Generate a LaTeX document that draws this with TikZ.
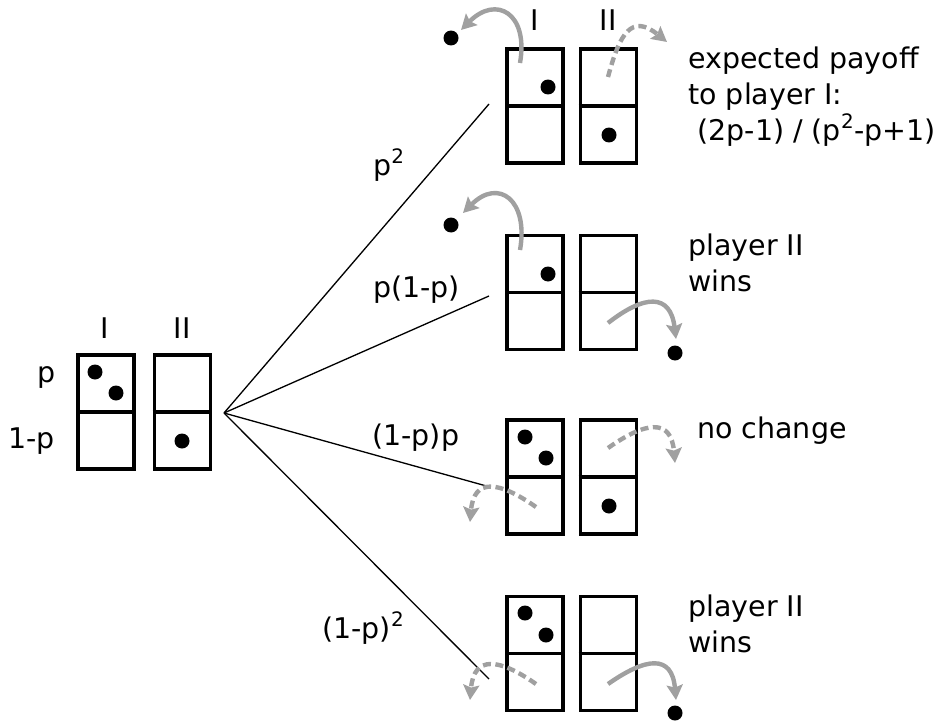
\documentclass[tikz,border=0pt]{standalone}
\usepackage{fontspec}
\setmainfont{DejaVu Sans}
\usetikzlibrary{arrows.meta}
\definecolor{grigio}{RGB}{160,160,160}

\begin{document}
\begin{tikzpicture}[x=0.02cm, y=0.02cm, font=\fontsize{16.2pt}{20.4pt}\selectfont,
    cella/.style = {draw, line width=2.1pt, minimum width=1.12cm, minimum height=2.28cm, inner sep=0},
    palla/.style = {circle, fill, inner sep=0, minimum size=0.3cm},
    ramo/.style = {line width=0.75pt},
    mossa/.style = {draw=grigio, line width=2.5pt, looseness=1.7, -{Stealth[length=0.3cm, width=0.32cm, inset=0.05cm]}},
    finta/.style = {mossa, dash pattern=on 0.16cm off 0.09cm},
    testo/.style = {anchor=base west, align=left, inner sep=0}]
    \useasboundingbox (0,0) rectangle (946,725);

    % Disegna le caselle
    \node[cella] (I0) at (106,313) {};
    \node[cella] (II0) at (182.5,313) {};
    \draw[line width=2.1pt] (I0.west) -- (I0.east) (II0.west) -- (II0.east);
    \foreach \n/\y in {1/619, 2/432.5, 3/248, 4/71.5} {
        \node[cella] (I\n) at (535,\y) {};
        \node[cella] (II\n) at (608.5,\y) {};
        \draw[line width=2.1pt] (I\n.west) -- (I\n.east) (II\n.west) -- (II\n.east);
    }

    \node[anchor=base] (tI0) at (105,387) {I};
    \node[anchor=base] (tII0) at (182,387) {II};
    \node[anchor=base] (tI1) at (535,694) {I};
    \node[anchor=base] (tII1) at (608,694) {II};
    \node[anchor=base east, inner sep=0] (pp) at (56,343) {p};
    \node[anchor=base east, inner sep=0] (qq) at (55,277) {1-p};

    % palline
    \node[palla] (b0) at (95,353) {};
    \node[palla] (c0) at (116,332) {};
    \node[palla] (d0) at (182,284) {};
    \node[palla] (c1) at (548,638) {};
    \node[palla] (d1) at (609,590) {};
    \node[palla] (c2) at (548,451) {};
    \node[palla] (b3) at (525,288) {};
    \node[palla] (c3) at (546,267) {};
    \node[palla] (d3) at (609,219) {};
    \node[palla] (b4) at (525,112) {};
    \node[palla] (c4) at (546,90) {};
    \node[palla] (f1) at (451,687) {};
    \node[palla] (f2) at (451,500) {};
    \node[palla] (g2) at (675,372) {};
    \node[palla] (g4) at (675,12) {};

    % rami
    \coordinate (r) at (224,312);
    \coordinate (e1) at (489,621);
    \coordinate (e2) at (489,429);
    \coordinate (e3) at (490,238);
    \coordinate (e4) at (489,46);
    \draw[ramo] (r) -- (e1);
    \draw[ramo] (r) -- (e2);
    \draw[ramo] (r) -- (e3);
    \draw[ramo] (r) -- (e4);

    \node[testo] (l1) at (373,550) {p\textsuperscript{2}};
    \node[testo] (l2) at (373,428) {p(1-p)};
    \node[testo] (l3) at (372,280) {(1-p)p};
    \node[testo] (l4) at (322,87) {(1-p)\textsuperscript{2}};

    % mosse
    \coordinate (a1) at (520,662);  \coordinate (z1) at (461,695);
    \coordinate (a2) at (608,648);  \coordinate (z2) at (667,683);
    \coordinate (a3) at (520,475);  \coordinate (z3) at (463,512);
    \coordinate (a4) at (608,402);  \coordinate (z4) at (676,386);
    \coordinate (a5) at (608,277);  \coordinate (z5) at (675,262);
    \coordinate (a6) at (536,218);  \coordinate (z6) at (470,203);
    \coordinate (a7) at (536,41);   \coordinate (z7) at (470,25);
    \coordinate (a8) at (608,41);   \coordinate (z8) at (676,25);
    \draw[mossa, looseness=1.9] (a1) to[out=80, in=45] (z1);
    \draw[finta] (a2) to[out=75, in=141] (z2);
    \draw[mossa, looseness=1.9] (a3) to[out=80, in=45] (z3);
    \draw[mossa] (a4) to[out=38, in=97] (z4);
    \draw[finta] (a5) to[out=35, in=95] (z5);
    \draw[finta] (a6) to[out=145, in=85] (z6);
    \draw[finta] (a7) to[out=145, in=85] (z7);
    \draw[mossa] (a8) to[out=35, in=95] (z8);

    \node[testo] (n1) at (688,585) {expected payoff\\to player I:\\\hspace*{0.32em}(2p-1) / (p\textsuperscript{2}-p+1)};
    \node[testo] (n2) at (688,434) {player II\\wins};
    \node[testo] (n3) at (697,287) {no change};
    \node[testo] (n4) at (688,73) {player II\\wins};

\end{tikzpicture}
\end{document}
